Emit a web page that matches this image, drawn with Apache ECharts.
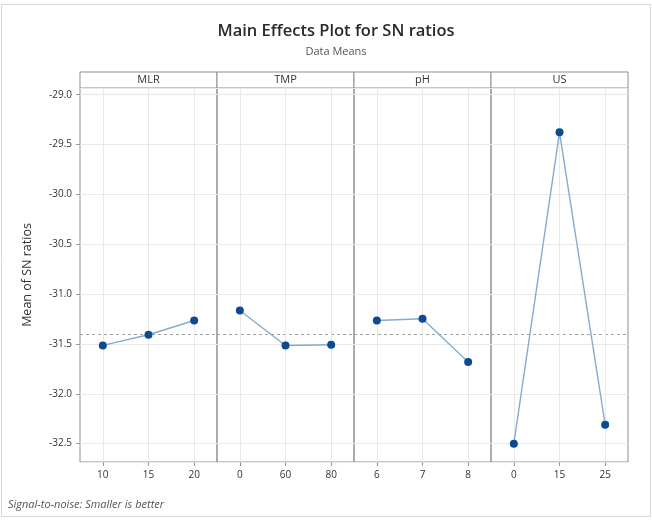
<!DOCTYPE html>
<html><head><meta charset="utf-8">
<script src="https://cdn.jsdelivr.net/npm/echarts@6/dist/echarts.min.js"></script>
<style>html,body{margin:0;padding:0;background:#fff}#c{width:652px;height:521px}</style>
</head><body><div id="c"></div>
<script>
var factors = ['MLR', 'TMP', 'pH', 'US'];
var levels = [
  ['10', '15', '20'],
  ['0', '60', '80'],
  ['6', '7', '8'],
  ['0', '15', '25']
];
var mlrValues = [-31.515, -31.408, -31.265];
var tmpValues = [-31.164, -31.515, -31.508];
var phValues  = [-31.265, -31.248, -31.682];
var usValues  = [-32.50, -29.378, -32.31];
var seriesValues = [mlrValues, tmpValues, phValues, usValues];
var yMin = -32.684, yMax = -28.933;

var all = [].concat(mlrValues, tmpValues, phValues, usValues);
var grandMean = all.reduce(function(a,b){return a+b;},0) / all.length;

var L = 80, W = 137, T = 88, H = 374, HDR = 16;
var FONT = 'Open Sans';
var grids = [], xAxes = [], yAxes = [], series = [], graphics = [];
for (var i = 0; i < 4; i++) {
  grids.push({left: L + i*W, top: T, width: W, height: H, show: true, borderColor: '#8f8f8f', borderWidth: 1, backgroundColor: 'transparent'});
  xAxes.push({type: 'category', gridIndex: i, data: levels[i], boundaryGap: true,
    axisLine: {show: false}, axisTick: {show: true, alignWithLabel: true, length: 4, lineStyle: {color: '#999'}},
    axisLabel: {color: '#333', fontSize: 10, fontFamily: FONT, margin: 8},
    splitLine: {show: false}});
  yAxes.push({type: 'value', gridIndex: i, min: yMin, max: yMax, splitNumber: 7,
    axisLine: {show: false},
    axisTick: {show: i === 0, length: 4, lineStyle: {color: '#999'}},
    axisLabel: {show: i === 0, color: '#333', fontSize: 10, fontFamily: FONT, showMinLabel: false, showMaxLabel: false,
      formatter: function(v){ return v.toFixed(1); }},
    splitLine: {show: true, lineStyle: {color: '#e8e8e8', width: 1}},
    name: i === 0 ? 'Mean of SN ratios' : '', nameLocation: 'middle', nameGap: 46, nameRotate: 90,
    nameTextStyle: {color: '#333', fontSize: 12.5, fontFamily: FONT}});
  series.push({type: 'line', xAxisIndex: i, yAxisIndex: i, data: seriesValues[i],
    symbol: 'circle', symbolSize: 8, z: 5,
    itemStyle: {color: '#0d4a8f'}, lineStyle: {color: '#86abd2', width: 1.4},
    markLine: {silent: true, symbol: 'none', animation: false, label: {show: false},
      data: [{yAxis: grandMean, lineStyle: {color: '#a0a0a0', type: [3, 3], width: 1}}]
        .concat(levels[i].map(function(l){ return {xAxis: l, lineStyle: {color: '#e8e8e8', type: 'solid', width: 1}}; }))
    }});
  graphics.push({type: 'rect', shape: {x: L + i*W, y: T - HDR, width: W, height: HDR},
    style: {fill: '#fff', stroke: '#8f8f8f', lineWidth: 1}});
  graphics.push({type: 'text', x: L + i*W + W/2, y: T - HDR/2,
    style: {text: factors[i], fill: '#333', font: '11px "' + FONT + '"', textAlign: 'center', textVerticalAlign: 'middle'}});
}
graphics.unshift({type: 'rect', shape: {x: 1.5, y: 4.5, width: 649, height: 512}, style: {fill: 'none', stroke: '#d8d8d8', lineWidth: 1}});
graphics.push({type: 'text', x: 8, y: 505, style: {text: 'Signal-to-noise: Smaller is better', fill: '#555', font: 'italic 11px "' + FONT + '"', textVerticalAlign: 'middle'}});

var chart = echarts.init(document.getElementById('c'));
chart.setOption({
  animation: false,
  backgroundColor: '#fff',
  title: [
    {text: 'Main Effects Plot for SN ratios', left: 331, top: 18, textAlign: 'center',
      textStyle: {fontSize: 16.5, fontWeight: 600, color: '#2a2a2a', fontFamily: FONT}},
    {text: 'Data Means', left: 331, top: 41, textAlign: 'center',
      textStyle: {fontSize: 11, fontWeight: 'normal', color: '#555', fontFamily: FONT}}
  ],
  grid: grids, xAxis: xAxes, yAxis: yAxes, series: series, graphic: graphics
});
</script></body></html>
